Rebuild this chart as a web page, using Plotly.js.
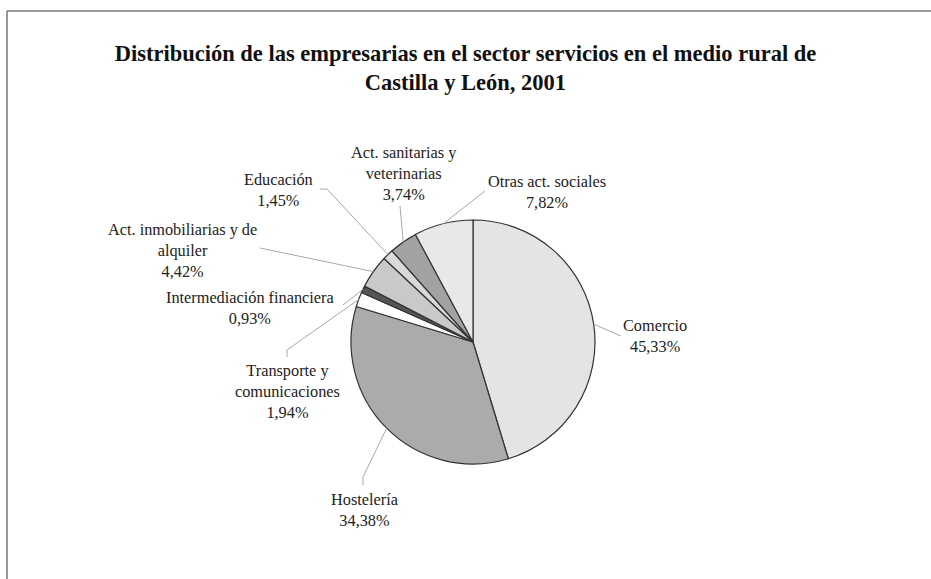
<!DOCTYPE html>
<html>
<head>
<meta charset="utf-8">
<script src="https://cdn.plot.ly/plotly-3.0.1.min.js"></script>
<style>html,body{margin:0;padding:0;background:#fff;}#chart{width:931px;height:579px;}</style>
</head>
<body>
<div id="chart"></div>
<script>
// ---- Data ----
var categories = [
  "Comercio",
  "Hostelería",
  "Transporte y<br>comunicaciones",
  "Intermediación financiera",
  "Act. inmobiliarias y de<br>alquiler",
  "Educación",
  "Act. sanitarias y<br>veterinarias",
  "Otras act. sociales"
];
var values = [45.33, 34.38, 1.94, 0.93, 4.42, 1.45, 3.74, 7.82];
var valueLabels = ["45,33%", "34,38%", "1,94%", "0,93%", "4,42%", "1,45%", "3,74%", "7,82%"];
var sliceColors = ["#e4e4e4", "#ababab", "#ffffff", "#555555", "#c9c9c9", "#d9d9d9", "#a2a2a2", "#e8e8e8"];

// ---- Layout (pixel geometry) ----
var W = 931, H = 579;
var cx = 473, cy = 342, R = 122;
// label text centre and leader-line end points (layout only)
var labelPos = [
  {x: 655, y: 336, ex: [[621, 336]]},
  {x: 364, y: 510, ex: [[363, 477], [363, 485]]},
  {x: 287, y: 391, ex: [[287, 350], [287, 357]]},
  {x: 250, y: 308, ex: [[343, 305]]},
  {x: 182, y: 250, ex: [[260, 248]]},
  {x: 278, y: 190, ex: [[327, 189], [320, 189]]},
  {x: 404, y: 173, ex: [[400, 206]]},
  {x: 547, y: 192, ex: [[485, 191]]}
];

var total = values.reduce(function(a, b){return a + b;}, 0);
var shapes = [];
var annotations = [];
var cum = 0;
var font = "'Liberation Serif', 'Times New Roman', serif";
for (var i = 0; i < values.length; i++) {
  var mid = (cum + values[i] / 2) / total * 2 * Math.PI;
  cum += values[i];
  var px = cx + R * Math.sin(mid), py = cy - R * Math.cos(mid);
  var pts = [[px, py]].concat(labelPos[i].ex);
  for (var k = 0; k < pts.length - 1; k++) {
    shapes.push({type: "line", xref: "x", yref: "y",
      x0: pts[k][0], y0: pts[k][1], x1: pts[k+1][0], y1: pts[k+1][1],
      line: {color: "#a8a8a8", width: 1}});
  }
  annotations.push({xref: "x", yref: "y", x: labelPos[i].x, y: labelPos[i].y,
    text: categories[i] + "<br>" + valueLabels[i], showarrow: false,
    xanchor: "center", yanchor: "middle", align: "center",
    font: {family: font, size: 16.3, color: "#222"}});
}
// frame lines
shapes.push({type: "line", xref: "x", yref: "y", x0: 7, y0: 11, x1: W, y1: 11, line: {color: "#777", width: 1.5}});
shapes.push({type: "line", xref: "x", yref: "y", x0: 7, y0: 11, x1: 7, y1: H, line: {color: "#777", width: 1.5}});

var pie = {
  type: "pie",
  values: values,
  labels: categories,
  sort: false,
  direction: "clockwise",
  rotation: 0,
  textinfo: "none",
  hoverinfo: "label+percent",
  showlegend: false,
  marker: {colors: sliceColors, line: {color: "#333", width: 1.2}},
  domain: {x: [(cx - R) / W, (cx + R) / W], y: [(H - cy - R) / H, (H - cy + R) / H]}
};
var dummy = {type: "scatter", x: [0], y: [0], mode: "markers", marker: {opacity: 0}, hoverinfo: "skip", showlegend: false};

var layout = {
  width: W, height: H,
  margin: {l: 0, r: 0, t: 0, b: 0},
  paper_bgcolor: "#fff", plot_bgcolor: "rgba(0,0,0,0)",
  xaxis: {range: [0, W], visible: false, fixedrange: true},
  yaxis: {range: [H, 0], visible: false, fixedrange: true},
  title: {text: "<b>Distribución de las empresarias en el sector servicios en el medio rural de<br>Castilla y León, 2001</b>",
    x: 0.5, xanchor: "center", y: 1 - 61 / H, yanchor: "middle",
    font: {family: font, size: 22.5, color: "#111"}},
  shapes: shapes,
  annotations: annotations
};
Plotly.newPlot("chart", [dummy, pie], layout, {staticPlot: true});
</script>
</body>
</html>
